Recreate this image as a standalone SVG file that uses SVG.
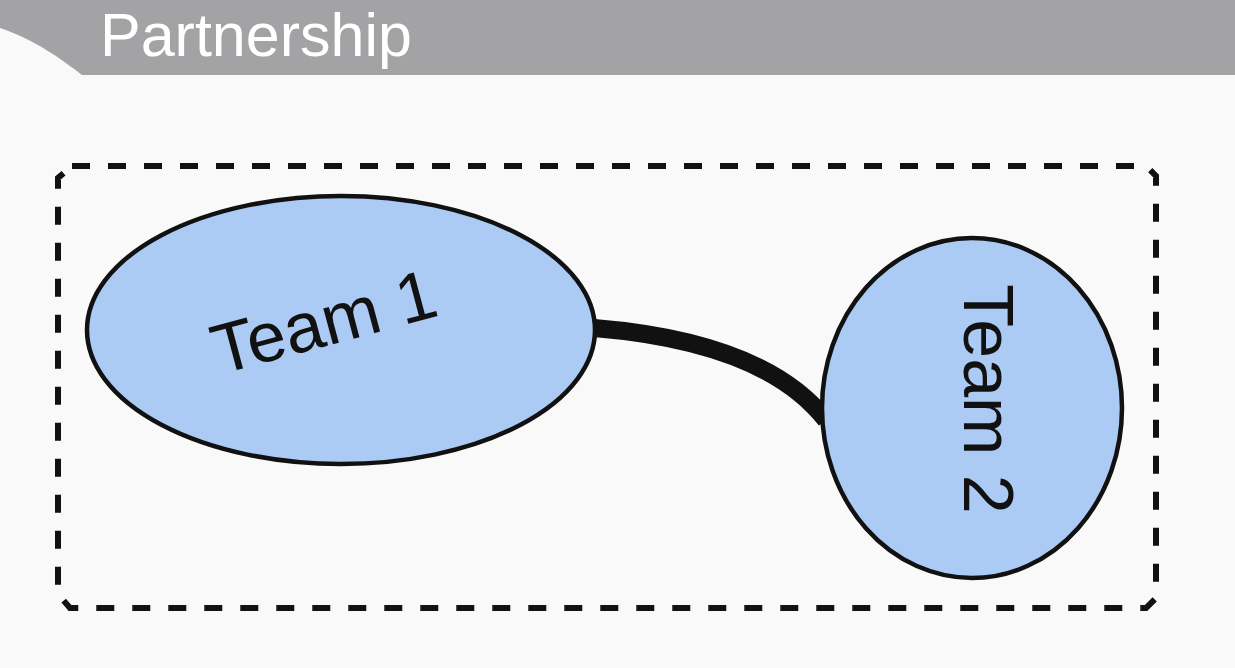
<svg xmlns="http://www.w3.org/2000/svg" width="1235" height="668" viewBox="0 0 1235 668">
<style>
.node{fill:#accbf4;stroke:#111;stroke-width:4.5}
.lbl{font-family:"Liberation Sans",Arial,sans-serif;font-size:70px;fill:#111;text-anchor:middle}
.title{font-family:"Liberation Sans",Arial,sans-serif;font-size:61px;fill:#fff}
</style>
<rect width="1235" height="668" fill="#f9f9f9"/>
<g id="header">
<path d="M0 0 H1235 V75 H82 C60 58 35 40 0 28 Z" fill="#a3a3a5"/>
<text class="title" x="100" y="56">Partnership</text>
</g>
<g id="frame">
<path d="M72 166 H1146 L1156 176 V598 L1146 608 H70 L58 594 V178 Z" fill="none" stroke="#111" stroke-width="6" stroke-dasharray="18 18"/>
</g>
<g id="connectors">
<path d="M594 328 Q765 342 826 420" fill="none" stroke="#111" stroke-width="18"/>
</g>
<g id="team1">
<ellipse class="node" cx="341" cy="330" rx="254" ry="134"/>
<text class="lbl" transform="translate(330,345) rotate(-15)">Team 1</text>
</g>
<g id="team2">
<ellipse class="node" cx="972" cy="408" rx="150" ry="170"/>
<text class="lbl" transform="translate(964,399) rotate(90)">Team 2</text>
</g>
</svg>
